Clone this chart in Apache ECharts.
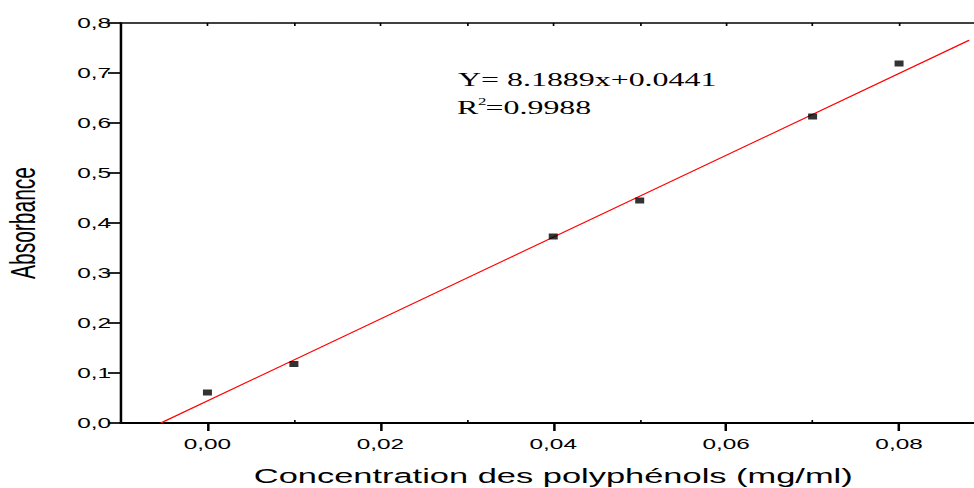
<!DOCTYPE html>
<html>
<head>
<meta charset="utf-8">
<script src="https://cdn.jsdelivr.net/npm/echarts@6/dist/echarts.min.js"></script>
<style>
html,body{margin:0;padding:0;background:#fff;overflow:hidden;width:974px;height:488px}
#c{height:488px;transform-origin:0 0}
</style>
</head>
<body>
<div id="c"></div>
<script>
// Data
var concentration = [0.00, 0.01, 0.04, 0.05, 0.07, 0.08];
var absorbance = [0.061, 0.118, 0.373, 0.445, 0.613, 0.719];
// Fitted line end points (as drawn)
var fitX = [-0.0054, 0.0881];
var fitY = [0.0, 0.7655];
// Tick values / labels
var xMajorTicks = [0.00, 0.02, 0.04, 0.06, 0.08];
var xMinorTicks = [0.01, 0.03, 0.05, 0.07];
var xTopTicks = [0.00, 0.01, 0.02, 0.03, 0.04, 0.05, 0.06, 0.07, 0.08];
var yTicks = [0.0, 0.1, 0.2, 0.3, 0.4, 0.5, 0.6, 0.7, 0.8];
var xTitle = 'Concentration des polyphénols (mg/ml)';
var yTitle = 'Absorbance';
var eqLine1 = 'Y= 8.1889x+0.0441';
var eqR2 = '0.9988';

// The reference picture is stretched horizontally; reproduce that stretch.
var S = 1.68;
var W = 974 / S;
var el = document.getElementById('c');
el.style.width = W + 'px';
el.style.transform = 'scaleX(' + S + ')';

var chart = echarts.init(el, null, {renderer: 'svg', width: W, height: 488});
var sans = 'Liberation Sans, Arial, sans-serif';
var serif = '"Liberation Serif", "Times New Roman", serif';
function comma(v, d) { return v.toFixed(d).replace('.', ','); }

var option = {
  animation: false,
  backgroundColor: '#ffffff',
  grid: {left: 121 / S, top: 23, right: -11.5 / S, bottom: 65, containLabel: false, outerBoundsMode: 'none'},
  xAxis: [
    {
      type: 'value', position: 'bottom', min: -0.01, max: 0.09, interval: 0.01,
      splitLine: {show: false},
      axisLine: {show: true, onZero: false, lineStyle: {color: '#000', width: 2}},
      axisTick: {show: true, inside: false, length: 8, customValues: xMajorTicks, lineStyle: {color: '#000', width: 1.5}},
      axisLabel: {customValues: xMajorTicks, formatter: function (v) { return comma(v, 2); },
        color: '#000', fontFamily: sans, fontSize: 14.5, margin: 13},
      name: xTitle, nameLocation: 'middle', nameGap: 42,
      nameTextStyle: {color: '#000', fontFamily: sans, fontSize: 20.5}
    },
    {
      type: 'value', position: 'bottom', min: -0.01, max: 0.09, interval: 0.01,
      splitLine: {show: false},
      axisLine: {show: false, onZero: false},
      axisTick: {show: true, inside: true, length: 3, customValues: xMinorTicks, lineStyle: {color: '#000', width: 1}},
      axisLabel: {show: false}
    },
    {
      type: 'value', position: 'top', min: -0.01, max: 0.09, interval: 0.01,
      splitLine: {show: false},
      axisLine: {show: true, onZero: false, lineStyle: {color: '#000', width: 1.7}},
      axisTick: {show: true, inside: true, length: 3, customValues: xTopTicks, lineStyle: {color: '#000', width: 1}},
      axisLabel: {show: false}
    }
  ],
  yAxis: [
    {
      type: 'value', min: 0, max: 0.8, interval: 0.1,
      splitLine: {show: false},
      axisLine: {show: true, onZero: false, lineStyle: {color: '#000', width: 1.5}},
      axisTick: {show: true, inside: false, length: 13 / S, customValues: yTicks, lineStyle: {color: '#000', width: 1.7}},
      axisLabel: {customValues: yTicks, formatter: function (v) { return comma(v, 1); },
        color: '#000', fontFamily: sans, fontSize: 14.5, margin: 10 / S},
      name: yTitle, nameLocation: 'middle', nameGap: 48, nameRotate: 90,
      nameTextStyle: {color: '#000', fontFamily: sans, fontSize: 21}
    }
  ],
  series: [
    {
      type: 'line', xAxisIndex: 0, yAxisIndex: 0,
      data: fitX.map(function (x, i) { return [x, fitY[i]]; }),
      symbol: 'none', lineStyle: {color: '#ff0000', width: 1}, z: 2
    },
    {
      type: 'scatter', xAxisIndex: 0, yAxisIndex: 0,
      data: concentration.map(function (x, i) { return [x, absorbance[i]]; }),
      symbol: 'rect', symbolSize: [9 / S, 6], itemStyle: {color: '#000'}, z: 3
    }
  ],
  graphic: [
    {
      type: 'text', left: 458 / S, top: 70,
      style: {text: eqLine1, font: '19px ' + serif, fill: '#000'}
    },
    {
      type: 'text', left: 457 / S, top: 98,
      style: {text: 'R', font: '19px ' + serif, fill: '#000'}
    },
    {
      type: 'text', left: 457 / S + 12.5, top: 97,
      style: {text: '2', font: '10px ' + serif, fill: '#000'}
    },
    {
      type: 'text', left: 457 / S + 17, top: 98,
      style: {text: '=' + eqR2, font: '19px ' + serif, fill: '#000'}
    }
  ]
};
chart.setOption(option);
</script>
</body>
</html>
